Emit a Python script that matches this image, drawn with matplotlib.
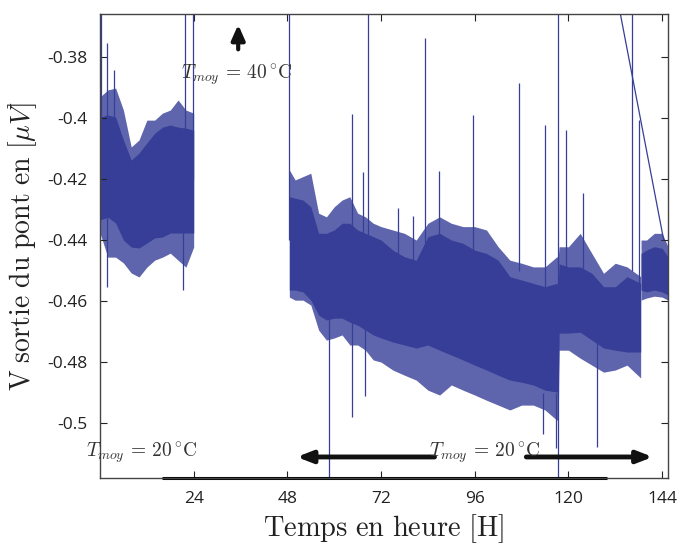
import numpy as np
import matplotlib.pyplot as plt

plt.rcParams['mathtext.fontset'] = 'cm'
plt.rcParams['axes.unicode_minus'] = False
plt.rcParams['font.family'] = ['Open Sans', 'DejaVu Sans']

# ── données : enveloppes du bruit ────────────────────────────────
# partie 1 (0-24 h)
heures_a = [0, 2, 4, 6, 8, 10, 12, 14, 16, 18, 20, 22, 24]
haut_a = [-0.3997, -0.399, -0.3997, -0.4072, -0.4138, -0.4115, -0.4082,
          -0.405, -0.403, -0.4023, -0.403, -0.4033, -0.404]
bas_a = [-0.4334, -0.4325, -0.4344, -0.44, -0.4423, -0.4426, -0.441,
         -0.4393, -0.439, -0.4377, -0.4377, -0.4377, -0.4377]
haut_ext_a = [-0.3931, -0.3908, -0.3902, -0.3974, -0.4095, -0.4072, -0.4007,
              -0.4007, -0.3984, -0.3974, -0.3941, -0.3974, -0.3984]
bas_ext_a = [-0.4377, -0.4456, -0.4456, -0.4475, -0.4508, -0.4521, -0.4489,
             -0.4466, -0.4456, -0.4443, -0.4466, -0.4489, -0.4423]

# partie 2 (48.5-138.5 h)
heures_b = [48.5, 50, 52, 54, 56, 58, 60, 62, 64, 66, 68, 70, 72, 75, 78, 81,
            84, 87, 90, 93, 96, 99, 102, 105, 108, 111, 114, 117, 117.4, 117.6,
            120, 123, 126, 129, 132, 135, 138.5]
haut_b = [-0.4258, -0.4263, -0.4269, -0.4291, -0.4378, -0.4378, -0.4367,
          -0.4345, -0.4345, -0.4367, -0.4378, -0.4389, -0.44, -0.4433,
          -0.4455, -0.4466, -0.4389, -0.4378, -0.44, -0.4411, -0.4433,
          -0.4444, -0.4466, -0.452, -0.4531, -0.4542, -0.4553, -0.4542,
          -0.4542, -0.4478, -0.4488, -0.4488, -0.4509, -0.4553, -0.4553,
          -0.452, -0.4542]
bas_b = [-0.4564, -0.4564, -0.457, -0.4597, -0.4646, -0.4662, -0.4656,
         -0.4656, -0.4669, -0.4679, -0.4695, -0.4711, -0.4721, -0.4734,
         -0.4744, -0.4754, -0.4744, -0.4761, -0.4777, -0.4793, -0.481,
         -0.4826, -0.4843, -0.4859, -0.4866, -0.4875, -0.4892, -0.4898,
         -0.4898, -0.4705, -0.4705, -0.4702, -0.4728, -0.4754, -0.4761,
         -0.4767, -0.4767]
haut_ext_b = [-0.417, -0.4203, -0.4192, -0.4181, -0.4312, -0.4324, -0.4291,
              -0.4269, -0.4258, -0.4312, -0.4324, -0.4345, -0.4356, -0.4367,
              -0.4378, -0.44, -0.4345, -0.4324, -0.4345, -0.4356, -0.4356,
              -0.4367, -0.4422, -0.4466, -0.4476, -0.4488, -0.4488, -0.4455,
              -0.4455, -0.4422, -0.4422, -0.4378, -0.4444, -0.4509, -0.4476,
              -0.4488, -0.452]
bas_ext_b = [-0.4587, -0.4597, -0.4597, -0.4613, -0.4695, -0.4728, -0.4721,
             -0.4711, -0.4744, -0.4744, -0.4761, -0.4793, -0.48, -0.4826,
             -0.4843, -0.4859, -0.4892, -0.4908, -0.4875, -0.4892, -0.4908,
             -0.4925, -0.4941, -0.4957, -0.4941, -0.4941, -0.4957, -0.499,
             -0.499, -0.4761, -0.4761, -0.4787, -0.481, -0.4833, -0.4826,
             -0.481, -0.4852]

# partie 3 (138.6-145.5 h)
heures_c = [138.6, 140, 142, 144, 145.5]
haut_c = [-0.4444, -0.4433, -0.4422, -0.4427, -0.4455]
bas_c = [-0.4564, -0.457, -0.4564, -0.457, -0.458]
haut_ext_c = [-0.44, -0.44, -0.4378, -0.4378, -0.4422]
bas_ext_c = [-0.4597, -0.459, -0.4584, -0.4587, -0.4597]

# pics isolés (heure, bas, haut)
pics_h = [0.3, 1.7, 3.7, 21.2, 21.8, 23.8, 48.5, 58.7, 64.6, 67.4, 67.9,
          68.7, 76.4, 80.3, 83.3, 86.9, 95.6, 107.4, 113.5, 114.1, 116.8,
          117.4, 119.5, 123.6, 127.4, 136.4, 138.2]
pics_bas = [-0.42, -0.4554, -0.42, -0.4564, -0.42, -0.42, -0.44, -0.53,
            -0.498, -0.45, -0.4911, -0.44, -0.45, -0.45, -0.45, -0.45, -0.45,
            -0.45, -0.5035, -0.46, -0.508, -0.53, -0.45, -0.45, -0.5079,
            -0.45, -0.46]
pics_haut = [-0.36, -0.3754, -0.3843, -0.42, -0.36, -0.36, -0.36, -0.46,
             -0.3987, -0.4177, -0.46, -0.36, -0.4295, -0.432, -0.3738,
             -0.4174, -0.399, -0.3885, -0.49, -0.4023, -0.49, -0.36, -0.404,
             -0.4246, -0.47, -0.36, -0.4007]

# ligne diagonale (saut de données)
diag_h = [133.3, 144.4]
diag_v = [-0.3659, -0.44]

bleu = '#363e97'

fig = plt.figure(figsize=(6.77, 5.48), dpi=100)
ax = fig.add_axes([0.1477, 0.1277, 0.839, 0.8468])

for h, hh, bb, he, be in [(heures_a, haut_a, bas_a, haut_ext_a, bas_ext_a),
                          (heures_b, haut_b, bas_b, haut_ext_b, bas_ext_b),
                          (heures_c, haut_c, bas_c, haut_ext_c, bas_ext_c)]:
    ax.fill_between(h, be, he, color=bleu, alpha=0.8, lw=0)
    ax.fill_between(h, bb, hh, color=bleu, lw=0)

ax.vlines(pics_h, pics_bas, pics_haut, color=bleu, lw=0.9)
ax.plot(diag_h, diag_v, color=bleu, lw=0.9)

ax.set_xlim(0, 145.5)
ax.set_ylim(-0.518, -0.3659)
ax.set_xticks([24, 48, 72, 96, 120, 144])
ax.set_xticklabels(['24', '48', '72', '96', '120', '144'])
ax.set_yticks([-0.38, -0.4, -0.42, -0.44, -0.46, -0.48, -0.5])
ax.set_yticklabels(['-0.38', '-0.4', '-0.42', '-0.44', '-0.46', '-0.48', '-0.5'])
ax.tick_params(direction='in', top=True, right=True, length=5, width=0.8,
               labelsize=12.5, colors='#222222', pad=9)
for s in ax.spines.values():
    s.set_color('#444444')
    s.set_linewidth(1.0)

ax.set_xlabel(r'$\mathrm{Temps\ en\ heure\ [H]}$', fontsize=20.5, color='#222222',
              labelpad=4)
ax.set_ylabel(r'$\mathrm{V\ sortie\ du\ pont\ en\ [}\mu V\mathrm{]}$', fontsize=20,
              color='#222222', labelpad=6)

# trait épais en bas
ax.plot([16, 130], [0, 0], color='black', lw=2.2, clip_on=False,
        solid_capstyle='butt', transform=ax.get_xaxis_transform())

# annotations
ax.annotate('', xy=(35.4, -0.3685), xytext=(35.4, -0.3784),
            arrowprops=dict(arrowstyle='-|>,head_width=0.4,head_length=0.9',
                            color='#111111', lw=3))
ax.text(35.0, -0.3859, r'$T_{moy}\,=\,40\,^{\circ}\mathrm{C}$', fontsize=14,
        ha='center', va='center', color='#333333')
ax.text(10.8, -0.5095, r'$T_{moy}\,=\,20\,^{\circ}\mathrm{C}$', fontsize=14,
        ha='center', va='center', color='#333333', clip_on=False)
ax.annotate('', xy=(49.7, -0.5111), xytext=(86.4, -0.5111),
            arrowprops=dict(arrowstyle='-|>,head_width=0.35,head_length=0.9',
                            color='#111111', lw=3.5))
ax.annotate('', xy=(142.3, -0.5111), xytext=(108.5, -0.5111),
            arrowprops=dict(arrowstyle='-|>,head_width=0.35,head_length=0.9',
                            color='#111111', lw=3.5))
ax.text(98.5, -0.5095, r'$T_{moy}\,=\,20\,^{\circ}\mathrm{C}$', fontsize=14,
        ha='center', va='center', color='#333333')

plt.savefig('out.png', dpi=100)
